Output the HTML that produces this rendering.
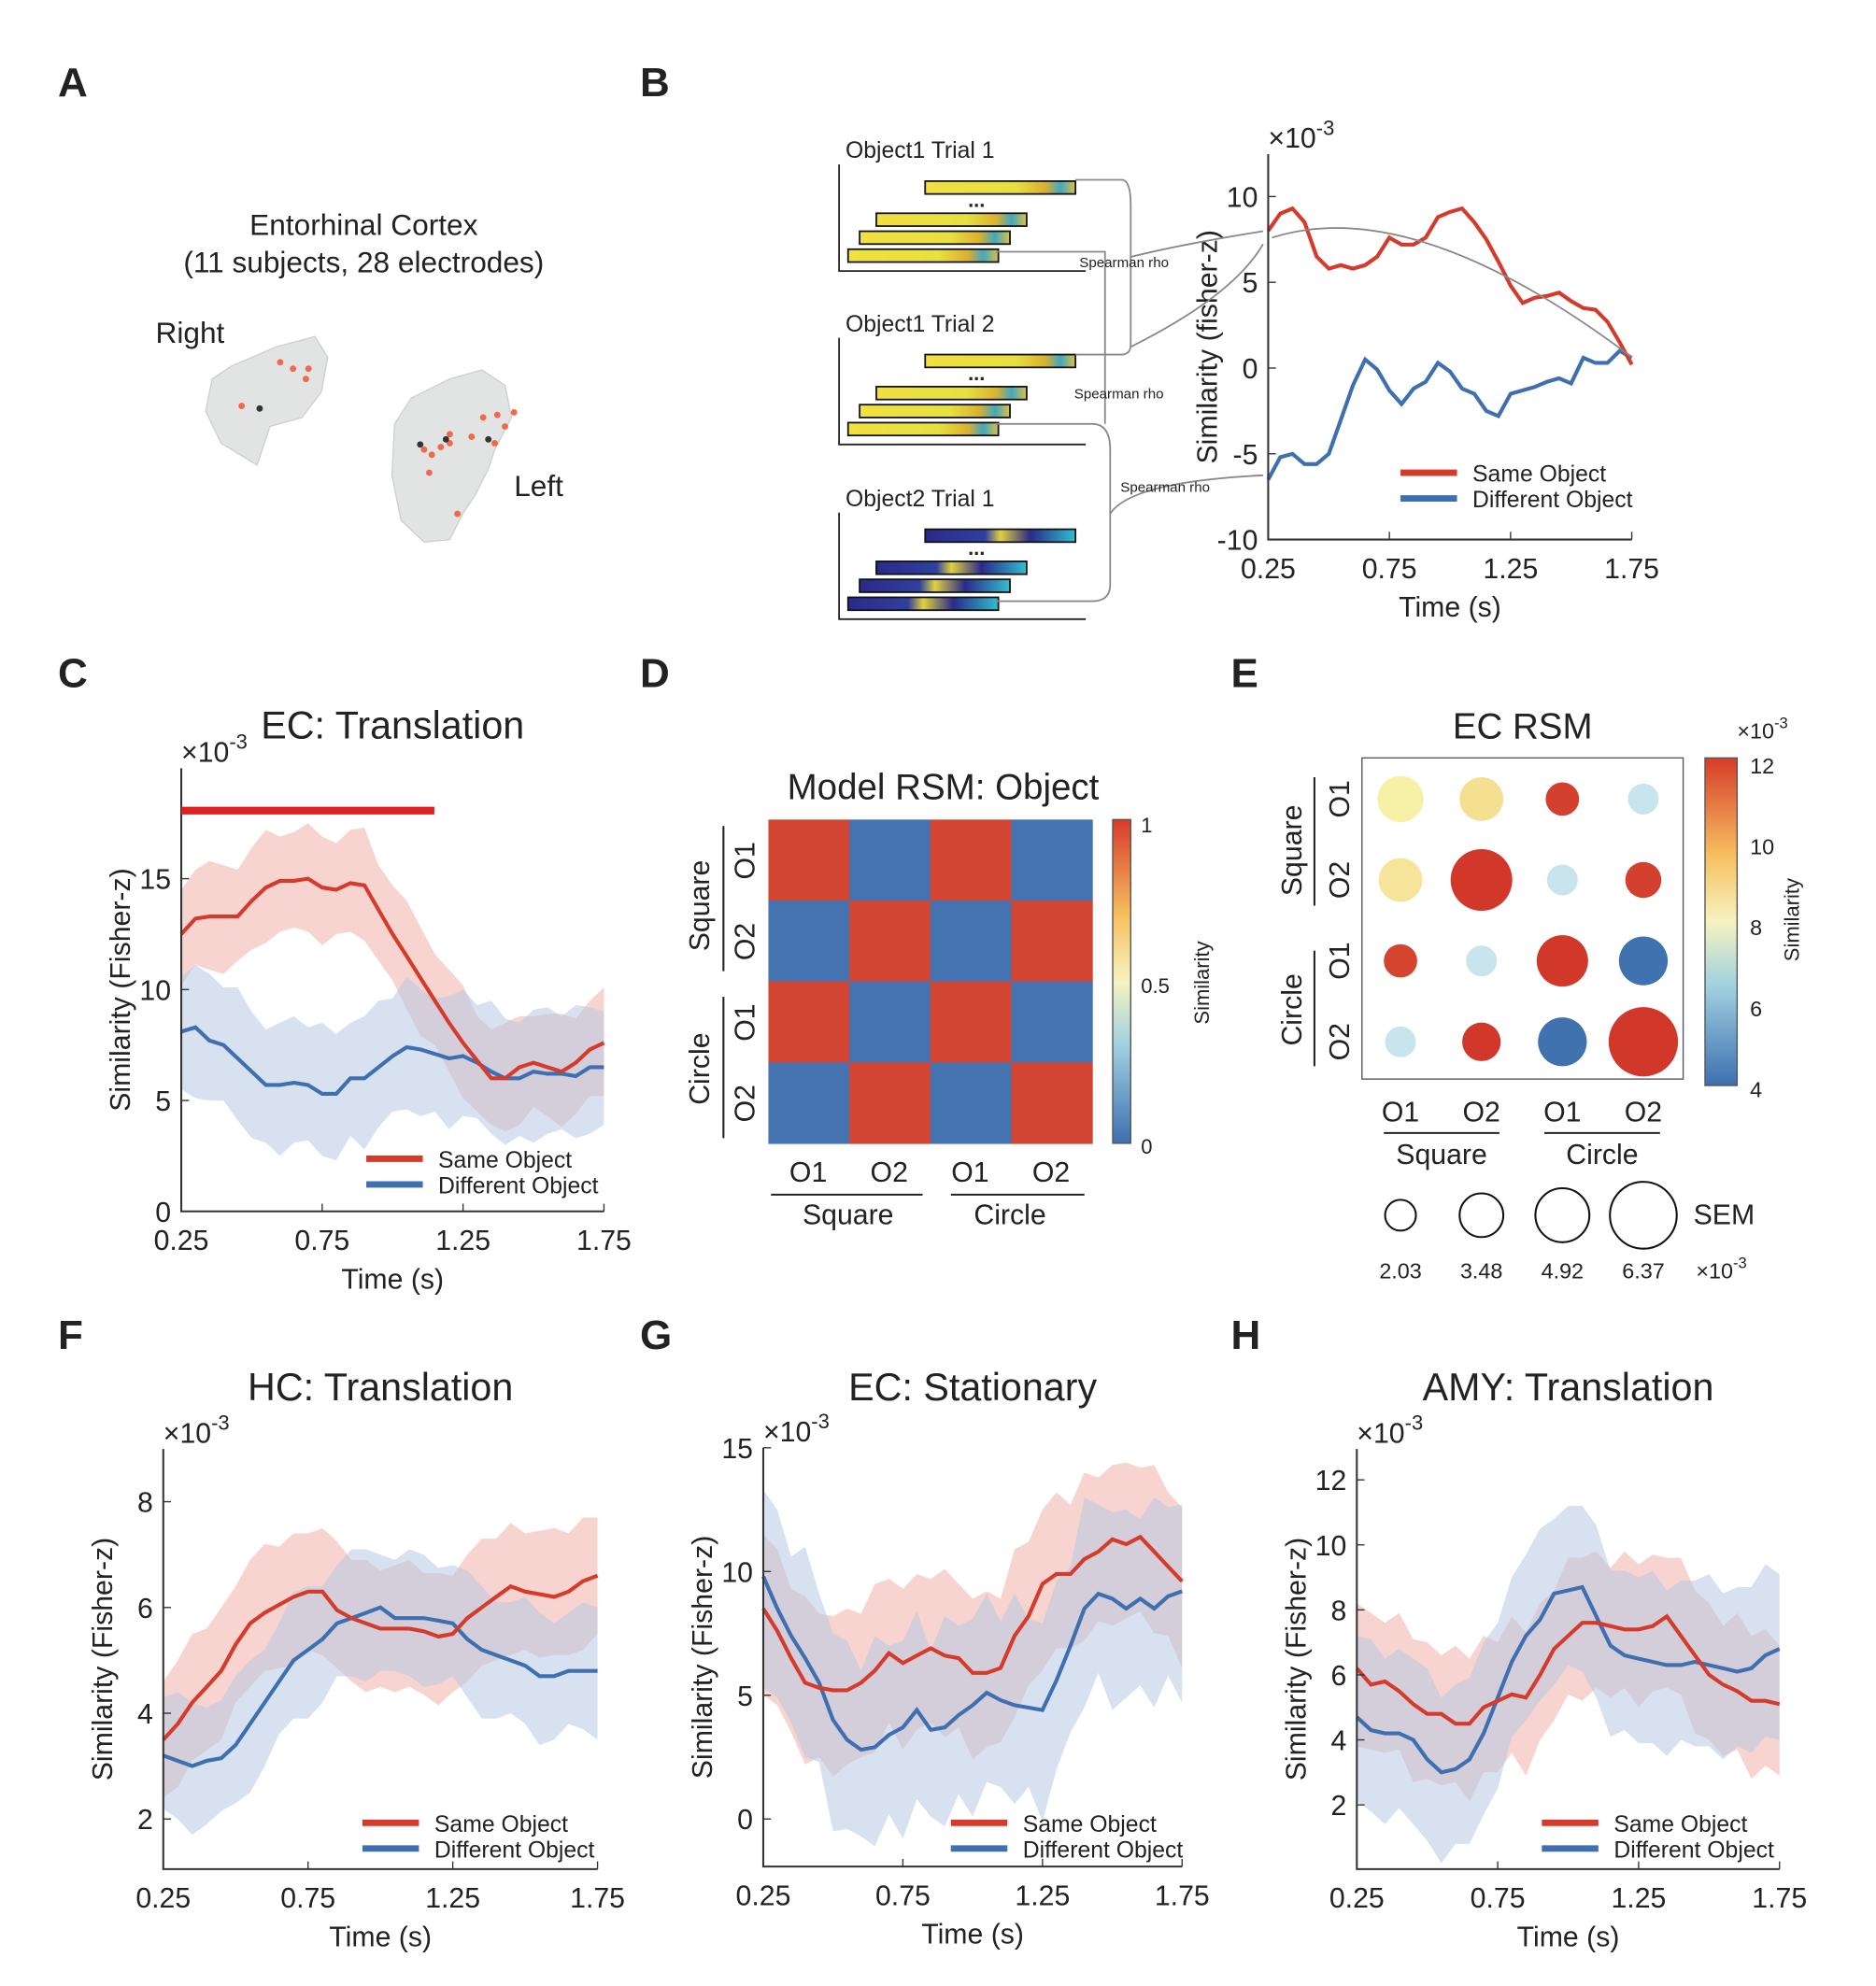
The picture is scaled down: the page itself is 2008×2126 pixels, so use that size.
<!DOCTYPE html>
<html><head><meta charset="utf-8"><style>
html,body{margin:0;padding:0;background:#fff}
svg{display:block}
text{font-family:"Liberation Sans",Arial,sans-serif;fill:#222}
</style></head><body>
<svg id="s" width="2008" height="2126" viewBox="0 0 1460 1546" xmlns="http://www.w3.org/2000/svg">
<defs>
<linearGradient id="jet" x1="0" y1="1" x2="0" y2="0">
<stop offset="0" stop-color="#3d6fb0"/><stop offset="0.3" stop-color="#9fd0e0"/><stop offset="0.5" stop-color="#f6f3c0"/><stop offset="0.7" stop-color="#f7c060"/><stop offset="1" stop-color="#d73b2a"/></linearGradient>
<linearGradient id="g1" x1="0" x2="1"><stop offset="0" stop-color="#f0e040"/><stop offset="0.6" stop-color="#e8e040"/><stop offset="0.8" stop-color="#d9b030"/><stop offset="0.9" stop-color="#40a8c0"/><stop offset="1" stop-color="#e0c040"/></linearGradient>
<linearGradient id="g2" x1="0" x2="1"><stop offset="0" stop-color="#2a2a8a"/><stop offset="0.4" stop-color="#3040a0"/><stop offset="0.5" stop-color="#e0d040"/><stop offset="0.7" stop-color="#2a2a8a"/><stop offset="1" stop-color="#30c0d0"/></linearGradient>
</defs>
<g id="root"></g>
</svg>
<script>
const R='#d63a2a',B='#3e6fb0';
let out='';
const T=(x,y,t,s,a,extra)=>{out+=`<text x="${x}" y="${y}" font-size="${s}" text-anchor="${a||'start'}" ${extra||''}>${t}</text>`;};
// panel letters
[['A',45,75],['B',498,75],['C',45,535],['D',498,535],['E',958,535],['F',45,1050],['G',498,1050],['H',958,1050]].forEach(p=>T(p[1],p[2],p[0],32,'start','font-weight="bold"'));
function plot(o){
 const X=t=>o.x0+(t-0.25)/1.5*(o.x1-o.x0);
 const Y=v=>o.yv0+(v-o.v0)*(o.yv1-o.yv0)/(o.v1-o.v0);
 const line=(d)=>d.map((v,i)=>(i?'L':'M')+X(0.25+i*0.05).toFixed(1)+','+Y(v).toFixed(1)).join('');
 const band=(d,w)=>{let p=d.map((v,i)=>(i?'L':'M')+X(0.25+i*0.05).toFixed(1)+','+Y(v+w[i%w.length]).toFixed(1)).join('');
   for(let i=d.length-1;i>=0;i--)p+='L'+X(0.25+i*0.05).toFixed(1)+','+Y(d[i]-w[(i+3)%w.length]).toFixed(1);return p+'Z';};
 if(o.bands){out+=`<path d="${band(o.r,o.rw)}" fill="#f2b8b0" opacity="0.6"/><path d="${band(o.b,o.bw)}" fill="#b8c8e4" opacity="0.55"/>`;}
 out+=`<path d="${line(o.b)}" fill="none" stroke="${B}" stroke-width="3"/><path d="${line(o.r)}" fill="none" stroke="${R}" stroke-width="3"/>`;
 // axes
 out+=`<path d="M${o.x0},${o.ytop}V${o.ybot}H${o.x1}" fill="none" stroke="#333" stroke-width="1.5"/>`;
 [0.25,0.75,1.25,1.75].forEach(t=>{out+=`<line x1="${X(t)}" y1="${o.ybot}" x2="${X(t)}" y2="${o.ybot-6}" stroke="#333"/>`;T(X(t),o.ybot+30,t.toFixed(2),22,'middle');});
 o.ticks.forEach(v=>{out+=`<line x1="${o.x0}" y1="${Y(v)}" x2="${o.x0+6}" y2="${Y(v)}" stroke="#333"/>`;T(o.x0-8,Y(v)+8,v,22,'end');});
 T((o.x0+o.x1)/2,o.ybot+60,'Time (s)',22,'middle');
 T(o.x0,o.ytop-5,'×10<tspan dy="-10" font-size="16">-3</tspan>',22,'start');
 const cy=(o.ytop+o.ybot)/2;
 T(0,0,o.ylab,22,'middle',`transform="translate(${o.x0-40},${cy}) rotate(-90)"`);
 if(o.title)T((o.x0+o.x1)/2+o.tdx,o.ttop,o.title,30,'middle');
 const lx=o.lx,ly=o.ly;
 out+=`<line x1="${lx}" y1="${ly}" x2="${lx+44}" y2="${ly}" stroke="${R}" stroke-width="5"/><line x1="${lx}" y1="${ly+20}" x2="${lx+44}" y2="${ly+20}" stroke="${B}" stroke-width="5"/>`;
 T(lx+56,ly+7,'Same Object',18);T(lx+56,ly+27,'Different Object',18);
 return {X,Y};
}
const W1=[2,2.2,2.5,2.3,2.1,2.4,2.6],W2=[2.5,2.8,3,2.6,3.2,2.7];
// C
const c=plot({x0:141,x1:470,v0:0,v1:15,yv0:943,yv1:684,ytop:598,ybot:943,ticks:[0,5,10,15],ylab:'Similarity (Fisher-z)',title:'EC: Translation',ttop:575,tdx:0,lx:285,ly:902,bands:1,
r:[12.5,13.2,13.3,13.3,13.3,14,14.6,14.9,14.9,15,14.6,14.5,14.8,14.7,13.6,12.5,11.5,10.5,9.5,8.5,7.6,6.8,6,6,6.5,6.7,6.5,6.3,6.7,7.3,7.6],rw:W1,
b:[8.1,8.3,7.7,7.5,6.9,6.3,5.7,5.7,5.8,5.7,5.3,5.3,6.0,6.0,6.5,7.0,7.4,7.3,7.1,6.9,7.0,6.7,6.3,6.0,6.0,6.3,6.2,6.2,6.1,6.5,6.5],bw:W2});
out+=`<line x1="141" y1="631" x2="338" y2="631" stroke="#e02020" stroke-width="6"/>`;
// F
plot({x0:127,x1:465,v0:2,v1:8,yv0:1416,yv1:1169,ytop:1128,ybot:1455,ticks:[2,4,6,8],ylab:'Similarity (Fisher-z)',title:'HC: Translation',ttop:1090,tdx:0,lx:282,ly:1419,bands:1,
r:[3.5,3.8,4.2,4.5,4.8,5.3,5.7,5.9,6.05,6.2,6.3,6.3,5.95,5.8,5.7,5.6,5.6,5.6,5.55,5.45,5.5,5.8,6.0,6.2,6.4,6.3,6.25,6.2,6.3,6.5,6.6],rw:[1.1,1.2,1.3,1.1,1.2],
b:[3.2,3.1,3.0,3.1,3.15,3.4,3.8,4.2,4.6,5.0,5.2,5.4,5.7,5.8,5.9,6.0,5.8,5.8,5.8,5.75,5.7,5.4,5.2,5.1,5.0,4.9,4.7,4.7,4.8,4.8,4.8],bw:[1.1,1.3,1.2,1.0]});
// G
plot({x0:594,x1:920,v0:0,v1:15,yv0:1416,yv1:1127,ytop:1127,ybot:1453,ticks:[0,5,10,15],ylab:'Similarity (Fisher-z)',title:'EC: Stationary',ttop:1090,tdx:0,lx:740,ly:1419,bands:1,
r:[8.5,7.6,6.5,5.5,5.3,5.2,5.2,5.5,6,6.7,6.3,6.6,6.9,6.6,6.5,5.9,5.9,6.1,7.4,8.2,9.5,9.9,9.9,10.5,10.8,11.3,11.1,11.4,10.8,10.2,9.6],rw:[3,3.3,2.8,3.5,3],
b:[9.8,8.5,7.4,6.5,5.5,4,3.2,2.8,2.9,3.4,3.7,4.4,3.6,3.7,4.2,4.6,5.1,4.8,4.6,4.5,4.4,5.6,7,8.5,9.1,8.9,8.5,8.9,8.5,9,9.2],bw:[3.5,4,3.2,4.5,3.6]});
// H
plot({x0:1056,x1:1385,v0:2,v1:12,yv0:1405,yv1:1152,ytop:1128,ybot:1455,ticks:[2,4,6,8,10,12],ylab:'Similarity (Fisher-z)',title:'AMY: Translation',ttop:1090,tdx:0,lx:1200,ly:1419,bands:1,
r:[6.2,5.7,5.8,5.5,5.1,4.8,4.8,4.5,4.5,5,5.2,5.4,5.3,6,6.8,7.2,7.6,7.6,7.5,7.4,7.4,7.5,7.8,7.2,6.6,6.0,5.7,5.5,5.2,5.2,5.1],rw:[2,2.2,1.8,2.4],
b:[4.7,4.3,4.2,4.2,4,3.4,3,3.1,3.4,4.2,5.3,6.4,7.2,7.7,8.5,8.6,8.7,7.8,6.9,6.6,6.5,6.4,6.3,6.3,6.4,6.3,6.2,6.1,6.2,6.6,6.8],bw:[2.5,2.8,2.3,2.6]});
// B plot
const bp=plot({x0:987,x1:1270,v0:-10,v1:10,yv0:420,yv1:153,ytop:120,ybot:420,ticks:[-10,-5,0,5,10],ylab:'Similarity (fisher-z)',title:'',lx:1090,ly:368,
r:[8,9,9.3,8.5,6.5,5.8,6,5.8,6,6.5,7.6,7.2,7.2,7.6,8.8,9.1,9.3,8.5,7.5,6.2,4.8,3.8,4.1,4.2,4.4,3.9,3.5,3.4,2.7,1.5,0.2],
b:[-6.5,-5.2,-5,-5.6,-5.6,-5,-3,-1,0.5,-0.1,-1.3,-2.1,-1.2,-0.8,0.3,-0.2,-1.2,-1.5,-2.5,-2.8,-1.5,-1.3,-1.1,-0.8,-0.6,-0.9,0.6,0.3,0.3,1,0.6]});
// B schematic
function grp(y,title,g){T(658,y,title,18);
 const rows=[[720,y+18,117],[682,y+43,117],[669,y+57,117],[660,y+71,117]];
 rows.forEach((r,i)=>out+=`<rect x="${r[0]}" y="${r[1]}" width="${r[2]}" height="10" fill="url(#${i%2?g:(g=='g1'?'g1':'g2')})" stroke="#111" stroke-width="1.3"/>`);
 T(760,y+38,'...',16,'middle','font-weight="bold"');
 out+=`<path d="M653,${y+5}V${y+88}H845" fill="none" stroke="#222" stroke-width="1.3"/>`;}
grp(123,'Object1 Trial 1','g1');grp(258,'Object1 Trial 2','g1');grp(394,'Object2 Trial 1','g2');
out+=`<g fill="none" stroke="#888" stroke-width="1.3"><path d="M837,140H873Q880,140 880,160V268Q880,276 873,276H837"/><path d="M775,196H860V330"/><path d="M775,330H850Q864,330 864,350V455Q864,468 850,468H775"/>
<path d="M880,200Q920,190 983,180"/><path d="M880,270Q960,230 983,190"/><path d="M864,400Q880,375 983,370"/><path d="M990,185Q1100,150 1270,278"/></g>`;
T(840,208,'Spearman rho',11);T(836,310,'Spearman rho',11);T(872,383,'Spearman rho',11);
// A
T(283,183,'Entorhinal Cortex',23,'middle');T(283,212,'(11 subjects, 28 electrodes)',23,'middle');T(121,267,'Right',23);T(400,386,'Left',23);
out+=`<path d="M180,285L215,270L245,262L255,278L250,305L235,325L210,332L200,362L172,345L160,320L165,295Z" fill="#e2e3e3" stroke="#d0d0d0"/>
<path d="M320,310L350,295L375,288L393,300L398,325L385,350L380,365L370,385L360,400L350,420L330,422L312,405L305,370L307,330Z" fill="#e2e3e3" stroke="#d0d0d0"/>`;
[[218,282],[228,287],[240,287],[238,295],[188,316],[376,325],[387,323],[400,321],[393,332],[350,338],[367,340],[343,348],[330,350],[336,354],[350,345],[334,368],[385,345],[356,400]].forEach(p=>out+=`<circle cx="${p[0]}" cy="${p[1]}" r="2.5" fill="#ee6a4a"/>`);
[[202,318],[327,346],[380,342],[347,342]].forEach(p=>out+=`<circle cx="${p[0]}" cy="${p[1]}" r="2.5" fill="#333"/>`);
// D
T(734,622,'Model RSM: Object',28,'middle');
const pat=[[1,0,1,0],[0,1,0,1],[1,0,1,0],[0,1,0,1]];
for(let i=0;i<4;i++)for(let j=0;j<4;j++)out+=`<rect x="${598+j*63}" y="${638+i*63}" width="63.5" height="63.5" fill="${pat[i][j]?'#d24532':'#4573b0'}"/>`;
out+=`<rect x="866" y="638" width="14" height="252" fill="url(#jet)" stroke="#555"/>`;
T(888,648,'1',16);T(888,773,'0.5',16);T(888,898,'0',16);T(0,0,'Similarity',16,'middle','transform="translate(941,765) rotate(-90)"');
['O1','O2','O1','O2'].forEach((t,i)=>{T(629+i*63,920,t,22,'middle');T(0,0,t,22,'middle',`transform="translate(587,${670+i*63}) rotate(-90)"`);});
out+=`<g stroke="#222" stroke-width="1.5"><line x1="600" y1="930" x2="718" y2="930"/><line x1="740" y1="930" x2="844" y2="930"/><line x1="563" y1="643" x2="563" y2="756"/><line x1="563" y1="776" x2="563" y2="886"/></g>`;
T(660,953,'Square',22,'middle');T(786,953,'Circle',22,'middle');
T(0,0,'Square',22,'middle','transform="translate(552,705) rotate(-90)"');T(0,0,'Circle',22,'middle','transform="translate(552,832) rotate(-90)"');
// E
T(1185,575,'EC RSM',28,'middle');
out+=`<rect x="1060" y="590" width="250" height="250" fill="none" stroke="#555"/>`;
const cs=[[['#f7f1a8',18],['#f5df90',17],['#d4402e',13],['#c8e4ec',12]],[['#f5e49a',17],['#d2382a',24],['#c8e4ec',12],['#d4402e',14]],[['#d4442e',13],['#c8e4ec',12],['#d2382a',20],['#4172b0',19]],[['#c8e4ec',12],['#d2382a',15],['#4172b0',19],['#d2382a',27]]];
cs.forEach((r,i)=>r.forEach((c2,j)=>out+=`<circle cx="${1090+j*63}" cy="${622+i*63}" r="${c2[1]}" fill="${c2[0]}"/>`));
out+=`<rect x="1327" y="590" width="25" height="255" fill="url(#jet)" stroke="#555"/>`;
[[12,600],[10,663],[8,726],[6,789],[4,852]].forEach(p=>T(1362,p[1]+2,p[0],17));
T(1352,575,'×10<tspan dy="-8" font-size="12">-3</tspan>',17);T(0,0,'Similarity',16,'middle','transform="translate(1400,716) rotate(-90)"');
['O1','O2','O1','O2'].forEach((t,i)=>{T(1090+i*63,873,t,22,'middle');T(0,0,t,22,'middle',`transform="translate(1050,${622+i*63}) rotate(-90)"`);});
out+=`<g stroke="#222" stroke-width="1.5"><line x1="1077" y1="882" x2="1167" y2="882"/><line x1="1202" y1="882" x2="1292" y2="882"/><line x1="1023" y1="605" x2="1023" y2="705"/><line x1="1023" y1="740" x2="1023" y2="830"/></g>`;
T(1122,906,'Square',22,'middle');T(1247,906,'Circle',22,'middle');
T(0,0,'Square',22,'middle','transform="translate(1013,662) rotate(-90)"');T(0,0,'Circle',22,'middle','transform="translate(1013,786) rotate(-90)"');
[[1090,12,'2.03'],[1153,17,'3.48'],[1216,21,'4.92'],[1279,26,'6.37']].forEach(p=>{out+=`<circle cx="${p[0]}" cy="946" r="${p[1]}" fill="none" stroke="#111" stroke-width="1.5"/>`;T(p[0],995,p[2],17,'middle');});
T(1318,953,'SEM',22);T(1320,995,'×10<tspan dy="-8" font-size="12">-3</tspan>',17);
document.getElementById('root').innerHTML=out;
</script>
</body></html>
